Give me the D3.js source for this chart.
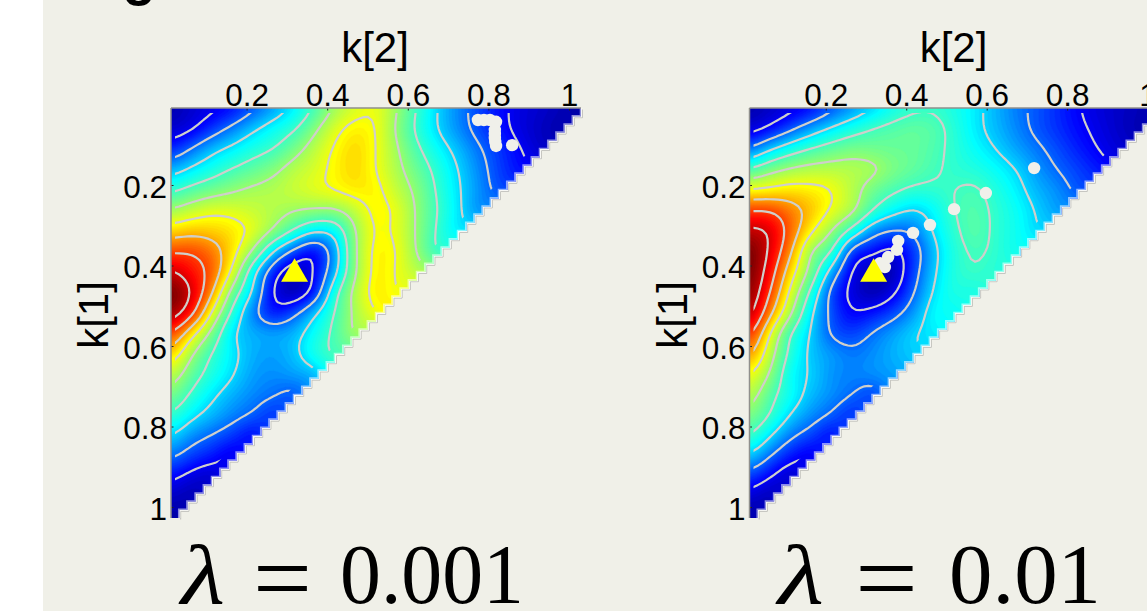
<!DOCTYPE html>
<html><head><meta charset="utf-8">
<script src="https://cdn.jsdelivr.net/npm/d3@7"></script>
<style>html,body{margin:0;padding:0;background:#fff;overflow:hidden}svg{display:block}</style>
</head><body><svg id="c" width="1147" height="611"></svg>
<script>
// Surface values, rows by k[1], columns by k[2] (upper-left triangle).
const surfaceLow = [
[.03,.06,.085,.12,.185,.25,.32,.41,.51,.57,.59,.505,.395,.30,.23,.17,.12,.08,.06,.04,.02],
[.06,.09,.155,.22,.285,.34,.39,.48,.575,.625,.60,.49,.385,.30,.235,.175,.125,.08,.05,.03],
[.14,.205,.275,.32,.365,.40,.465,.54,.61,.65,.60,.51,.415,.34,.275,.21,.155,.105,.06],
[.265,.315,.36,.405,.44,.48,.535,.57,.62,.65,.60,.525,.45,.375,.30,.23,.165,.12],
[.385,.425,.46,.49,.515,.53,.555,.58,.605,.63,.62,.55,.48,.39,.31,.24,.18],
[.51,.55,.58,.575,.555,.53,.505,.49,.49,.55,.62,.585,.49,.40,.315,.24],
[.65,.67,.66,.635,.58,.49,.39,.31,.335,.50,.61,.585,.49,.39,.32],
[.79,.79,.745,.635,.49,.30,.175,.115,.255,.495,.62,.60,.495,.395],
[.91,.85,.765,.58,.335,.14,.05,.105,.275,.495,.625,.595,.54],
[.99,.895,.71,.46,.29,.095,.04,.135,.37,.53,.63,.60],
[.95,.83,.59,.375,.225,.13,.18,.285,.405,.52,.60],
[.80,.635,.47,.31,.265,.25,.27,.345,.42,.51],
[.66,.51,.395,.32,.265,.25,.28,.36,.41],
[.55,.445,.365,.305,.25,.235,.25,.27],
[.47,.385,.315,.265,.23,.205,.185],
[.39,.32,.27,.225,.19,.155],
[.30,.235,.195,.155,.115],
[.21,.16,.125,.09],
[.115,.075,.06],
[.05,.035],
[.02]];
const surfaceHigh = [
[.03,.05,.08,.115,.18,.24,.295,.35,.385,.39,.36,.32,.27,.22,.185,.145,.105,.075,.055,.04,.02],
[.07,.115,.18,.25,.31,.36,.40,.425,.44,.425,.375,.32,.275,.23,.185,.15,.115,.085,.055,.035],
[.21,.29,.355,.405,.44,.465,.46,.45,.445,.42,.38,.34,.30,.255,.215,.175,.135,.10,.07],
[.41,.47,.51,.53,.535,.53,.515,.47,.44,.41,.385,.37,.34,.30,.245,.20,.165,.13],
[.605,.62,.635,.625,.60,.535,.46,.415,.385,.385,.40,.41,.37,.325,.27,.235,.185],
[.80,.795,.74,.67,.59,.52,.40,.33,.295,.335,.40,.425,.385,.345,.295,.25],
[.92,.89,.76,.615,.50,.37,.24,.195,.215,.31,.385,.43,.385,.35,.305],
[.99,.885,.715,.50,.405,.165,.115,.08,.155,.28,.37,.41,.385,.35],
[.99,.85,.645,.465,.265,.095,.04,.04,.165,.29,.37,.395,.375],
[.97,.80,.58,.38,.175,.08,.035,.085,.195,.31,.365,.36],
[.93,.725,.515,.315,.18,.105,.125,.17,.245,.335,.34],
[.825,.60,.40,.295,.19,.165,.205,.25,.295,.32],
[.72,.54,.375,.285,.245,.215,.235,.265,.29],
[.605,.49,.34,.295,.24,.225,.235,.25],
[.54,.43,.345,.275,.235,.20,.17],
[.475,.395,.295,.235,.19,.15],
[.40,.305,.215,.165,.12],
[.285,.20,.125,.095],
[.16,.10,.06],
[.065,.04],
[.02]];
const contourLevels = [.1,.2,.3,.4,.5,.6,.7,.8,.9];
const tickValues = [.2,.4,.6,.8,1];
const pathK2Low = [.774,.789,.804,.819,.816,.816,.816,.817,.819,.859];
const pathK1Low = [.0385,.0385,.0385,.043,.063,.073,.083,.093,.103,.101];
const pathK2High = [.335,.347,.355,.377,.380,.417,.459,.519,.598,.718];
const pathK1High = [.394,.404,.379,.361,.339,.319,.299,.260,.220,.158];
const peakK2 = .319, peakK1 = .421;
const lambdaLow = "0.001", lambdaHigh = "0.01";

const paper = "#f0f0e8";
const svg = d3.select("#c");
svg.append("rect").attr("x",43).attr("y",0).attr("width",1104).attr("height",611).attr("fill",paper);
svg.append("text").attr("x",139).attr("y",-6).attr("text-anchor","middle")
  .attr("font-family","Liberation Sans").attr("font-weight","bold").attr("font-size",55).text("g");

const jet = d3.scaleLinear().domain([0,.11,.335,.615,.86,1])
  .range(["#000090","#0000ff","#00ffff","#ffff00","#ff0000","#6a0000"]).clamp(true);

function square(rows){
  const n = rows.length;
  return d3.range(n).map(i => d3.range(n).map(j => i+j < n ? rows[i][j] : rows[n-1-j][n-1-i]));
}
function cr(a,b,c,d,t){return .5*(2*b+(c-a)*t+(2*a-5*b+4*c-d)*t*t+(3*b-a-3*c+d)*t*t*t);}
function refine(g,f){
  const n=g.length, N=(n-1)*f+1, at=(i,j)=>g[Math.max(0,Math.min(n-1,i))][Math.max(0,Math.min(n-1,j))];
  const out=new Float64Array(N*N);
  for(let r=0;r<N;r++){const fi=r/f,i=Math.min(n-2,Math.floor(fi)),ti=fi-i;
    for(let c=0;c<N;c++){const fj=c/f,j=Math.min(n-2,Math.floor(fj)),tj=fj-j;
      const col=[-1,0,1,2].map(d=>cr(at(i+d,j-1),at(i+d,j),at(i+d,j+1),at(i+d,j+2),tj));
      out[r*N+c]=Math.max(0,Math.min(1,cr(col[0],col[1],col[2],col[3],ti)));
    }}
  d3.blur2({data:out,width:N,height:N},1);
  return {values:out,N};
}

function panel(id,rows,left,xRange,px2,px1,lambdaText,lamPos){
  const size=410, top=108;
  const x=d3.scaleLinear([0,1],xRange), y=d3.scaleLinear([0,1],[104.5,507]);
  const n=rows.length, f=5;
  const colK=d3.scaleLinear([0,n-1],[x.invert(left),x.invert(left+size)]);
  const rowK=d3.scaleLinear([0,n-1],[y.invert(top),y.invert(top+size)]);
  const {values,N}=refine(square(rows),f);
  const proj=d3.geoTransform({point(a,b){this.stream.point(x(colK((a-.5)/f)),y(rowK((b-.5)/f)));}});
  const path=d3.geoPath(proj);

  const steps=50, cell=size/steps;
  const stairPts=[[left,top]];
  d3.range(steps).forEach(i=>{stairPts.push([left+size-cell*i,top+cell*i]);stairPts.push([left+size-cell*i,top+cell*(i+1)]);});
  stairPts.push([left,top+size]);
  const stair=d3.line()(stairPts)+"Z";
  const defs=svg.append("defs");
  defs.append("clipPath").attr("id","st"+id).append("path").attr("d",stair);
  defs.append("clipPath").attr("id","ln"+id).append("path")
    .attr("d",d3.line()([[left+4,top+5],[left+size-13,top+5],[left+4,top+size-13]])+"Z");

  const edge=d3.line()(stairPts.slice(1,-1));
  svg.append("path").attr("d",edge).attr("fill","none").attr("stroke","#bdbdb8").attr("stroke-width",1).attr("transform","translate(1.5,1.5)");

  const g=svg.append("g").attr("clip-path",`url(#st${id})`);
  const levels=d3.range(0,100).map(d=>d/100);
  g.selectAll("path.band").data(d3.contours().size([N,N]).thresholds(levels)(values)).join("path")
    .attr("class","band").attr("d",path).attr("fill",d=>jet(d.value+.005)).attr("stroke",d=>jet(d.value+.005)).attr("stroke-width",.4);
  svg.append("path").attr("d",edge).attr("fill","none").attr("stroke","#fff").attr("stroke-width",2.5).attr("stroke-opacity",.55);

  svg.append("g").attr("clip-path",`url(#ln${id})`).attr("fill","none")
    .selectAll("path").data(d3.contours().size([N,N]).thresholds(contourLevels)(values)).join("path")
    .attr("d",path).attr("stroke","#cfcfcb").attr("stroke-width",2.2);

  const fmt=d=>d===1?"1":d3.format(".1f")(d);
  const axT=svg.append("g").attr("transform",`translate(0,${top})`)
    .call(d3.axisTop(x).tickValues(tickValues).tickFormat(fmt).tickSize(-2.5).tickPadding(2));
  const axL=svg.append("g").attr("transform",`translate(${left},0)`)
    .call(d3.axisLeft(y).tickValues(tickValues).tickFormat(fmt).tickSize(-2.5).tickPadding(4));
  [axT,axL].forEach(a=>{a.select(".domain").remove();
    a.attr("font-family","Liberation Sans").attr("font-size",31.5);
    a.selectAll("text").attr("fill","#000");a.selectAll("line").attr("stroke","#222");});
  axL.selectAll("text").attr("dy",12);
  svg.append("line").attr("x1",left).attr("x2",left+size).attr("y1",top).attr("y2",top).attr("stroke","#8f8f8c").attr("stroke-width",1.5);
  svg.append("line").attr("x1",left).attr("x2",left).attr("y1",top).attr("y2",top+size).attr("stroke","#8f8f8c").attr("stroke-width",1.5);

  svg.append("g").selectAll("circle").data(px2).join("circle")
    .attr("cx",d=>x(d)).attr("cy",(d,i)=>y(px1[i])).attr("r",6.2).attr("fill","#f0f0ea");
  svg.append("path").attr("d",d3.symbol(d3.symbolTriangle,316)())
    .attr("transform",`translate(${x(peakK2)},${y(peakK1)})`).attr("fill","#ffff00");

  const label=(t,tx,ty,rot)=>svg.append("text").attr("text-anchor","middle")
    .attr("transform",`translate(${tx},${ty})`+(rot?` rotate(${rot})`:""))
    .attr("font-family","Liberation Sans").attr("font-size",42).attr("fill","#000").text(t);
  label("k[2]",left+204,62);
  label("k[1]",left-63,315,-90);

  const big=(t,tx,w,style,fs,by)=>svg.append("text").attr("x",tx).attr("y",by||603)
    .attr("font-family","Liberation Serif").attr("font-size",fs||84).attr("font-style",style||"normal")
    .attr("textLength",w).attr("lengthAdjust","spacingAndGlyphs").attr("fill","#000").text(t);
  big("\u03bb",lamPos[0],lamPos[1],"italic");
  big("=",lamPos[2],lamPos[3],"normal",100,612);
  big(lambdaText,lamPos[4],lamPos[5]);
}
panel("a",surfaceLow,171,[166,569],pathK2Low,pathK1Low,lambdaLow,[181,44,253,59,340,184]);
panel("b",surfaceHigh,749.5,[745.3,1147.6],pathK2High,pathK1High,lambdaHigh,[778,46,855,63,949,152]);
</script></body></html>
